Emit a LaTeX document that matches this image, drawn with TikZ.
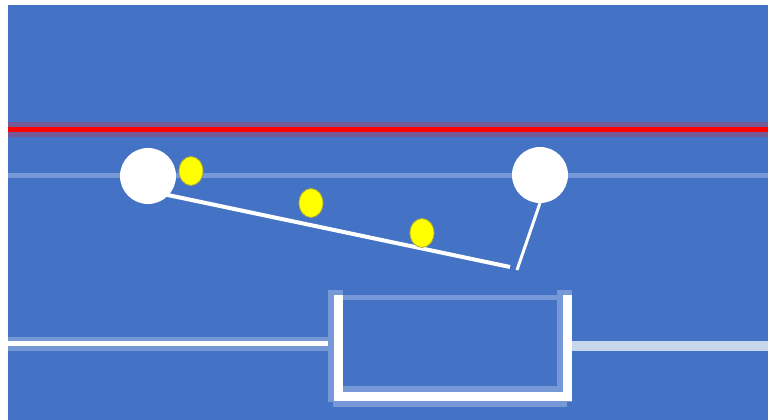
\documentclass[tikz,border=0pt]{standalone}
\usetikzlibrary{shapes.geometric}
\definecolor{bgblue}{RGB}{68,114,196}
\definecolor{halo}{RGB}{118,152,214}
\definecolor{redhalo}{RGB}{117,88,150}
\definecolor{paleline}{RGB}{200,214,238}
\definecolor{ylw}{RGB}{255,255,0}
\tikzset{
  ball/.style={circle,fill=white,minimum size=56pt,inner sep=0pt},
  bead/.style={ellipse,fill=ylw,draw={rgb,255:red,170;green,170;blue,60},line width=0.8pt,minimum width=24pt,minimum height=29pt,inner sep=0pt},
  wire/.style={white,line width=4pt},
}
\begin{document}
\begin{tikzpicture}[x=1pt,y=-1pt]
\useasboundingbox (0,0) rectangle (768,420);
\fill[bgblue] (8,5) rectangle (768,420);
% red rail
\draw[redhalo,line width=14.5pt] (8,129.5) -- (768,129.5);
\draw[red,line width=4.8pt] (8,129.5) -- (768,129.5);
% thin rail
\draw[halo,line width=5pt] (8,175.5) -- (768,175.5);
% balls
\node[ball] (lc) at (148,176) {};
\node[ball] (rc) at (540,175) {};
% connectors
\coordinate (ls) at (163,194);
\coordinate (le) at (510,267);
\coordinate (rs) at (540,203);
\coordinate (re) at (517,270);
\draw[wire] (ls) -- (le);
\draw[white,line width=3pt] (rs) -- (re);
% beads
\node[bead] (y1) at (191,171) {};
\node[bead] (y2) at (311,203) {};
\node[bead] (y3) at (422,233) {};
% bottom left line
\coordinate (bl0) at (8,343.5);
\coordinate (bl1) at (333,343.5);
\draw[halo,line width=14pt] (bl0) -- (bl1);
\draw[white,line width=5pt] (bl0) -- (bl1);
% box
\draw[halo,line width=5pt] (338,297.5) -- (567,297.5);
\draw[halo,line width=15pt] (335.5,290) -- (335.5,402);
\draw[halo,line width=15pt] (564.5,290) -- (564.5,402);
\draw[halo,line width=21pt] (333,396.5) -- (567,396.5);
\draw[white,line width=9pt] (338,295) -- (338,396.5) -- (567,396.5) -- (567,295);
% bottom right line
\coordinate (br0) at (572,346);
\coordinate (br1) at (768,346);
\draw[paleline,line width=10pt] (br0) -- (br1);
\end{tikzpicture}
\end{document}
